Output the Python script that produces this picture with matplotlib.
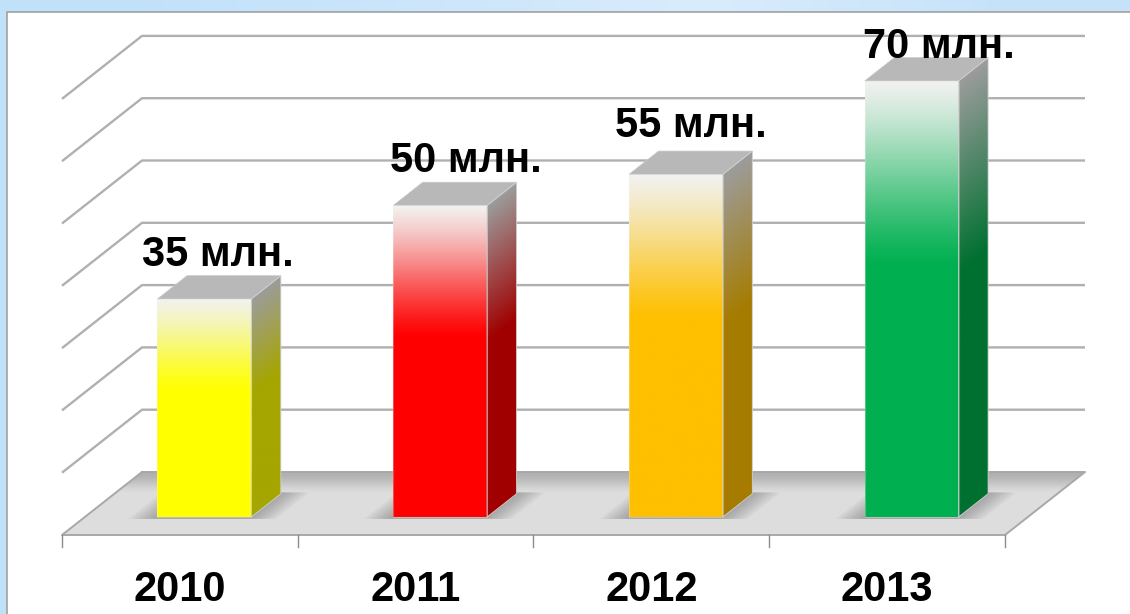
import numpy as np
import matplotlib
matplotlib.use("Agg")
import matplotlib.pyplot as plt
from matplotlib.colors import to_rgb
from matplotlib.patches import Polygon, Rectangle

plt.rcParams['font.family'] = ['Liberation Sans', 'DejaVu Sans']

# data
years = ['2010', '2011', '2012', '2013']
values = [35, 50, 55, 70]
value_labels = ['35 млн.', '50 млн.', '55 млн.', '70 млн.']
front_colors = ['#ffff00', '#ff0000', '#ffc000', '#00b050']
side_colors = ['#a6a600', '#a00000', '#a67c00', '#007030']
grid_values = [10, 20, 30, 40, 50, 60, 70]

# layout in pixels, the picture is 1130x614
W, H = 1130, 614
CAT_PX = 235.75
VAL_PX = 6.23
X0_PX = 62
Y0_PX = 535

# oblique depth of the fake 3d box, in data units
DX = 80 / CAT_PX
DY = 63 / VAL_PX
BAR_W = 0.398
BAR_C = 0.507
D_FRONT = 0.286
D_BACK = 0.655

# hand placed labels in the original (pixels from bar centre / top)
label_dx = [13, 26, 15, 27]
label_dy = [33, 33, 37, 23]


def pt(x, d, v):
    return x + d * DX, v + d * DY


def smooth(a):
    return a * a * (3 - 2 * a)


fig = plt.figure(figsize=(W / 100, H / 100), dpi=100)
ax = fig.add_axes([0, 0, 1, 1])
xlim = (-X0_PX / CAT_PX, (W - X0_PX) / CAT_PX)
ylim = ((Y0_PX - H) / VAL_PX, Y0_PX / VAL_PX)
ax.axis('off')


def px_x(p):
    return (p - X0_PX) / CAT_PX


def px_y(p):
    return (Y0_PX - p) / VAL_PX


# blue slide background
bg = np.array([[0.76, 0.885, 0.98], [0.80, 0.90, 0.985], [0.85, 0.925, 0.99], [0.78, 0.89, 0.98]])
ax.imshow(bg[np.newaxis, :, :], extent=(xlim[0], xlim[1], ylim[0], ylim[1]),
          aspect='auto', zorder=0, interpolation='bilinear')
ax.add_patch(Rectangle((px_x(7), ylim[0]), xlim[1] - px_x(7), px_y(12) - ylim[0],
                       fc='white', ec='none', zorder=1))
ax.plot([px_x(7), px_x(7), xlim[1]], [ylim[0], px_y(12), px_y(12)],
        color='#9a9a9a', lw=1.1, zorder=1.5)

# grid on the back and left walls
n = len(years)
for g in grid_values:
    xs, ys = zip(pt(0, 0, g), pt(0, 1, g), pt(n, 1, g))
    ax.plot(xs, ys, color='#b0b0b0', lw=1.7, zorder=2, solid_capstyle='butt')

# floor, darker towards the back wall
floor = Polygon([pt(0, 0, 0), pt(n, 0, 0), pt(n, 1, 0), pt(0, 1, 0)], closed=True,
                fc='none', ec='none')
ax.add_patch(floor)
shade = smooth(np.clip(np.linspace(0, 1, 120) / 0.36, 0, 1))
floor_img = (0.69 + (0.87 - 0.69) * shade)[:, np.newaxis]
im = ax.imshow(np.repeat(floor_img[:, :, np.newaxis], 3, axis=2),
               extent=(0, n + DX, 0, DY), aspect='auto', zorder=3)
im.set_clip_path(floor)
ax.plot(*zip(pt(0, 1, 0), pt(0, 0, 0), pt(n, 0, 0), pt(n, 1, 0), pt(0, 1, 0)),
        color='#a8a8a8', lw=1.4, zorder=3.1)

# ticks under the floor
for i in range(n + 1):
    ax.plot([i, i], [0, px_y(547)], color='#8c8c8c', lw=1.0, zorder=3.1)

for i, v in enumerate(values):
    left = i + BAR_C - BAR_W / 2
    right = left + BAR_W

    # soft shadow on the floor
    for e in np.linspace(0.115, 0.0, 12):
        sh = Polygon([pt(left - e, D_FRONT - 0.03, 0), pt(right + e, D_FRONT - 0.03, 0),
                      pt(right + e, D_BACK + 0.02, 0), pt(left - e, D_BACK + 0.02, 0)],
                     closed=True, fc='#606060', ec='none', alpha=0.045, zorder=4)
        ax.add_patch(sh)

    front = np.array(to_rgb(front_colors[i]))
    side = np.array(to_rgb(side_colors[i]))
    top_front = np.array(to_rgb('#f2f2f0'))
    top_side = np.array(to_rgb('#9c9c9c'))

    # front face, light at the top fading into the colour
    fx0, fy0 = pt(left, D_FRONT, 0)
    fx1, fy1 = pt(right, D_FRONT, v)
    a = np.clip(np.linspace(0, 1, 200) / 0.42, 0, 1)
    t = (0.7 * a + 0.3 * smooth(a))[:, np.newaxis, np.newaxis]
    img = top_front * (1 - t) + front * t
    ax.imshow(img, extent=(fx0, fx1, fy0, fy1), aspect='auto', zorder=5,
              interpolation='bilinear')
    ax.add_patch(Rectangle((fx0, fy0), fx1 - fx0, fy1 - fy0, fc='none',
                           ec='#f4f4f4', alpha=0.3, lw=0.8, zorder=5.2))

    # side face, the gradient follows the skew of the box
    sx0, sy0 = pt(right, D_FRONT, 0)
    sx1, _ = pt(right, D_BACK, 0)
    _, sy1 = pt(right, D_BACK, v)
    sx = np.linspace(sx0, sx1, 40)
    sy = np.linspace(sy1, sy0, 240)
    gx, gy = np.meshgrid(sx, sy)
    face_v = gy - (gx - sx0) / (sx1 - sx0) * (D_BACK - D_FRONT) * DY - D_FRONT * DY
    t = np.clip((v - face_v) / (0.44 * v), 0, 1)[:, :, np.newaxis]
    img = top_side * (1 - t) + side * t
    side_poly = Polygon([pt(right, D_FRONT, 0), pt(right, D_BACK, 0),
                         pt(right, D_BACK, v), pt(right, D_FRONT, v)],
                        closed=True, fc='none', ec='#d0d0d0', lw=0.6, zorder=5.2)
    ax.add_patch(side_poly)
    im = ax.imshow(img, extent=(sx0, sx1, sy0, sy1), aspect='auto', zorder=5,
                   interpolation='bilinear')
    im.set_clip_path(side_poly)

    # top face
    ax.add_patch(Polygon([pt(left, D_FRONT, v), pt(right, D_FRONT, v),
                          pt(right, D_BACK, v), pt(left, D_BACK, v)],
                         closed=True, fc='#b8b8b8', ec='#c8c8c8', lw=0.5, zorder=5.1))

    # value label above the bar
    ax.annotate(value_labels[i], xy=pt((left + right) / 2, D_FRONT, v),
                xytext=(label_dx[i], label_dy[i]), textcoords='offset pixels',
                ha='center', va='baseline', fontsize=30, fontweight='bold',
                color='black', zorder=6)

    # year label
    ax.text(i + 0.5, px_y(601), years[i], ha='center', va='baseline', fontsize=30,
            fontweight='bold', color='black', zorder=6)

ax.set_xlim(xlim)
ax.set_ylim(ylim)

fig.savefig('out.png', dpi=100)
